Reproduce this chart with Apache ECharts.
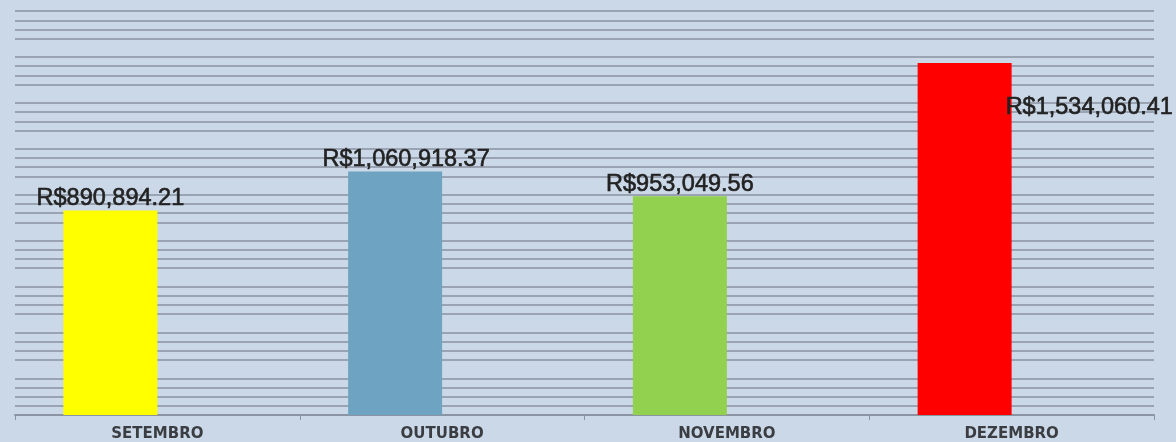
<!DOCTYPE html>
<html>
<head>
<meta charset="utf-8">
<script src="https://cdn.jsdelivr.net/npm/echarts@6/dist/echarts.min.js"></script>
<style>
  html, body { margin: 0; padding: 0; background: #cbd8e8; }
  #chart { width: 1176px; height: 442px; }
</style>
</head>
<body>
<div id="chart"></div>
<script>
const months = ['SETEMBRO', 'OUTUBRO', 'NOVEMBRO', 'DEZEMBRO'];
const totals = [890894.21, 1060918.37, 953049.56, 1534060.41];
// serie vazia do grafico original (empurra as barras para a esquerda)
const emptySeries = ['-', '-', '-', '-'];
const barColors = ['#ffff00', '#6ea3c2', '#92d050', '#ff0000'];

const money = v => 'R$' + v.toLocaleString('en-US', {minimumFractionDigits: 2, maximumFractionDigits: 2});

const chart = echarts.init(document.getElementById('chart'));

const barData = totals.map((v, i) => {
    const item = {value: v, itemStyle: {color: barColors[i]}};
    if (i === 1) item.label = {offset: [11, 0]};
    if (i === 3) item.label = {position: ['100%', 44], align: 'left', verticalAlign: 'middle', offset: [-6, 0]};
    return item;
});

chart.setOption({
    backgroundColor: '#cbd8e8',
    animation: false,
    grid: {left: 15, right: 22, top: 2, bottom: 26, containLabel: false},
    xAxis: {
        type: 'category',
        data: months,
        axisLine: {lineStyle: {color: '#8a94a2', width: 2}},
        axisTick: {show: true, length: 5, lineStyle: {color: '#8a94a2', width: 1}},
        axisLabel: {
            color: '#3a3d42', fontFamily: 'DejaVu Sans', fontWeight: 'bold',
            fontSize: 15, margin: 12
        }
    },
    yAxis: {
        type: 'value',
        min: 0, max: 1800000, interval: 200000,
        axisLabel: {show: false},
        axisLine: {show: false},
        axisTick: {show: false},
        splitLine: {show: false},
        minorTick: {show: false, splitNumber: 5},
        minorSplitLine: {show: true, lineStyle: {color: '#99a3b1', width: 2}}
    },
    series: [
        {
            name: 'Total',
            type: 'bar',
            data: barData,
            barWidth: 94,
            barGap: '0%',
            label: {
                show: true,
                position: 'top',
                distance: 0,
                color: '#222',
                fontFamily: 'Liberation Sans',
                fontSize: 23.5,
                textBorderColor: '#222',
                textBorderWidth: 0.6,
                formatter: p => money(p.value)
            }
        },
        {
            name: 'vazio',
            type: 'bar',
            data: emptySeries,
            barWidth: 94
        }
    ]
});
</script>
</body>
</html>
